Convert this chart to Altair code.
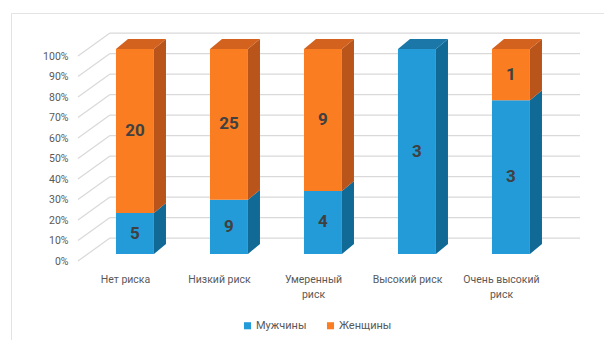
import json
import altair as alt
import pandas as pd

# ---- data -------------------------------------------------------------
CATEGORIES = ["Нет риска", "Низкий риск", "Умеренный\nриск", "Высокий риск", "Очень высокий\nриск"]
MEN = [5, 9, 4, 3, 3]
WOMEN = [20, 25, 9, 0, 1]
SERIES = ["Мужчины", "Женщины"]
Y_TICKS = [0, 10, 20, 30, 40, 50, 60, 70, 80, 90, 100]

# ---- style ------------------------------------------------------------
FRONT = ["#239BD9", "#FA7D22"]
SIDE = ["#116A96", "#B9541B"]
TOP = ["#1A77A7", "#D2621D"]
GRID = "#D9D9D9"
TEXT = "#595959"
FONT = "Roboto"

W, H = 604, 340
N = len(CATEGORIES)

# pseudo-3D geometry, expressed in data units (x: category slots, y: percent)
BAR_DX, BAR_DY = 0.106, 3.4      # bars stand a little behind the label plane
HALF = 0.202                     # half bar width
DEPTH_X, DEPTH_Y = 0.128, 4.9    # bar depth
WALL_DX, WALL_DY = 0.34, 11.2    # back wall offset

front_rows, face_rows, text_rows = [], [], []
for i, (cat, m, w) in enumerate(zip(CATEGORIES, MEN, WOMEN)):
    total = m + w
    cx = i + 0.5 + BAR_DX
    xl, xr = cx - HALF, cx + HALF
    segs = [(s, v) for s, v in zip(SERIES, (m, w)) if v > 0]
    bottom = 0.0
    for k, (s, v) in enumerate(segs):
        top = bottom + v / total * 100
        y0, y1 = bottom + BAR_DY, top + BAR_DY
        front_rows.append(dict(series=s, x=xl, x2=xr, y=y0, y2=y1))
        text_rows.append(dict(x=cx, y=(y0 + y1) / 2, label=str(v)))
        fid = f"{i}-{s}-side"
        shade = s + " side"
        face_rows += [
            dict(face=fid, shade=shade, x=xr, y=y0, y2=y1),
            dict(face=fid, shade=shade, x=xr + DEPTH_X, y=y0 + DEPTH_Y, y2=y1 + DEPTH_Y),
        ]
        if k == len(segs) - 1:
            fid = f"{i}-top"
            shade = s + " top"
            face_rows += [
                dict(face=fid, shade=shade, x=xl, y=y1, y2=y1),
                dict(face=fid, shade=shade, x=xl + DEPTH_X, y=y1, y2=y1 + DEPTH_Y),
                dict(face=fid, shade=shade, x=xr, y=y1, y2=y1 + DEPTH_Y),
                dict(face=fid, shade=shade, x=xr + DEPTH_X, y=y1 + DEPTH_Y, y2=y1 + DEPTH_Y),
            ]
        bottom = top

grid_rows = []
for t in Y_TICKS:
    # side-wall diagonal and back-wall horizontal line
    grid_rows.append(dict(x=0, x2=WALL_DX, y=t, y2=t + WALL_DY))
    grid_rows.append(dict(x=WALL_DX, x2=N + WALL_DX, y=t + WALL_DY, y2=t + WALL_DY))

front_df = pd.DataFrame(front_rows)
face_df = pd.DataFrame(face_rows)
text_df = pd.DataFrame(text_rows)
grid_df = pd.DataFrame(grid_rows)

# ---- scales & axes ----------------------------------------------------
xs = alt.Scale(domain=[0, N], range=[78, 548], nice=False, zero=False)
ys = alt.Scale(domain=[0, 100], range=[261, 56], nice=False, zero=False)

cat_js = json.dumps(CATEGORIES, ensure_ascii=False)
x_axis = alt.Axis(
    values=[i + 0.5 for i in range(N)],
    labelExpr=f"split({cat_js}[floor(datum.value)], '\\n')",
    title=None, domain=False, ticks=False, grid=False,
    labelFlush=False, labelOverlap=False, labelBound=False,
    labelFont=FONT, labelFontSize=10.5, labelColor=TEXT,
    labelLineHeight=15, labelPadding=13, offset=-79,
)
y_axis = alt.Axis(
    values=Y_TICKS, labelExpr="datum.value + '%'",
    title=None, domain=False, ticks=False, grid=False,
    labelFont=FONT, labelFontSize=10.5, labelColor=TEXT,
    labelPadding=3, offset=-71,
)

X = lambda f: alt.X(f, scale=xs, axis=x_axis)
Y = lambda f: alt.Y(f, scale=ys, axis=y_axis)

grid = alt.Chart(grid_df).mark_rule(color=GRID, strokeWidth=1.2).encode(
    x=X("x:Q"), x2="x2:Q", y=Y("y:Q"), y2="y2:Q"
)

shade_domain = [s + " side" for s in SERIES] + [s + " top" for s in SERIES]
faces = alt.Chart(face_df).mark_area(interpolate="linear", opacity=1).encode(
    x=X("x:Q"), y=Y("y:Q"), y2="y2:Q",
    detail="face:N",
    fill=alt.Fill("shade:N", scale=alt.Scale(domain=shade_domain, range=SIDE + TOP), legend=None),
)

fronts = alt.Chart(front_df).mark_rect().encode(
    x=X("x:Q"), x2="x2:Q", y=Y("y:Q"), y2="y2:Q",
    color=alt.Color(
        "series:N",
        scale=alt.Scale(domain=SERIES, range=FRONT),
        legend=alt.Legend(
            title=None, orient="none", legendX=242, legendY=320,
            direction="horizontal", symbolType="square", symbolSize=50,
            symbolStrokeWidth=0, labelFont=FONT, labelFontSize=11,
            labelColor=TEXT, columnPadding=18, labelOffset=3,
        ),
    ),
)

labels = alt.Chart(text_df).mark_text(
    font=FONT, fontSize=17, fontWeight="bold", color="#404040", baseline="middle"
).encode(x=X("x:Q"), y=Y("y:Q"), text="label:N")

# outer frame: left and top edges
frame_left = alt.Chart(pd.DataFrame({"k": [0]})).mark_rule(color="#E3E3E3").encode(
    x=alt.value(11.5), y=alt.value(13.5), y2=alt.value(H)
)
frame_top = alt.Chart(pd.DataFrame({"k": [0]})).mark_rule(color="#E3E3E3").encode(
    x=alt.value(11.5), x2=alt.value(W), y=alt.value(13.5)
)

chart = (
    alt.layer(frame_left, frame_top, grid, faces, fronts, labels)
    .resolve_scale(fill="independent")
    .properties(width=W, height=H, autosize=alt.AutoSizeParams(type="none"), padding=0,
                background="white")
    .configure_view(stroke=None)
)

chart.save("out.html", embed_options={"renderer": "svg", "actions": False})
